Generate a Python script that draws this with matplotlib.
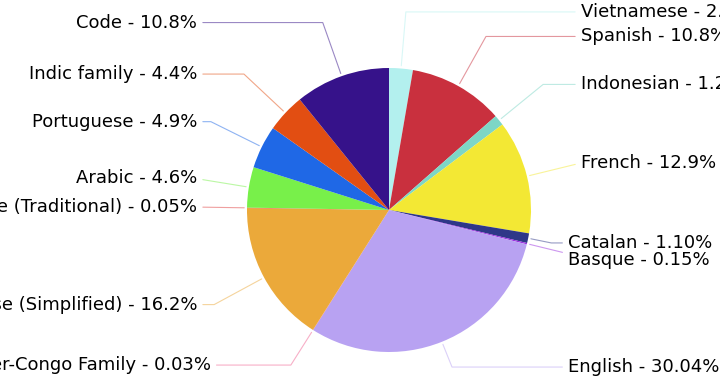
import numpy as np
import matplotlib
matplotlib.use("Agg")
import matplotlib.pyplot as plt

# data (BLOOM training languages)
languages = ["Vietnamese", "Spanish", "Indonesian", "French", "Catalan", "Basque",
             "English", "Niger-Congo Family", "Chinese (Simplified)",
             "Chinese (Traditional)", "Arabic", "Portuguese", "Indic family", "Code"]
share_labels = ["2.7%", "10.8%", "1.2%", "12.9%", "1.10%", "0.15%",
                "30.04%", "0.03%", "16.2%", "0.05%", "4.6%", "4.9%", "4.4%", "10.8%"]
shares = [2.7, 10.8, 1.2, 12.9, 1.10, 0.15, 30.04, 0.03, 16.2, 0.05, 4.6, 4.9, 4.4, 10.8]
colors = ["#b3f0ee", "#c9303e", "#7dd6c6", "#f3e834", "#2e3788", "#9b30e0",
          "#b8a2f2", "#f06090", "#eba93a", "#e04040", "#78f04a", "#1f68e6",
          "#e24e12", "#36128a"]

# hand nudged label spots (where the default ones collide)
nudge = {"Catalan": (1.26, -0.232), "Basque": (1.26, -0.352),
         "English": (1.26, -1.106), "Niger-Congo Family": (-1.254, -1.092)}

fig = plt.figure(figsize=(7.2, 3.8), dpi=100)
ax = fig.add_axes([0, 0, 1, 1])

wedges, _ = ax.pie(shares, colors=colors, startangle=90, counterclock=False,
                   radius=1, center=(0, 0))

for i, w in enumerate(wedges):
    ang = (w.theta2 - w.theta1) / 2. + w.theta1
    y = np.sin(np.deg2rad(ang))
    x = np.cos(np.deg2rad(ang))
    ha = {-1: "right", 1: "left"}[int(np.sign(x))]
    tx, ty = nudge.get(languages[i], (1.35 * np.sign(x), 1.4 * y))
    ax.annotate(languages[i] + " - " + share_labels[i], xy=(x, y), xytext=(tx, ty),
                ha=ha, va="center", fontsize=13, zorder=0,
                arrowprops=dict(arrowstyle="-", color=colors[i], alpha=0.5, lw=0.8,
                                connectionstyle="angle,angleA=0,angleB=%f" % ang))

ax.set_aspect("auto")
ax.set_xlim(-389 / 142, 331 / 142)
ax.set_ylim(-170 / 142, 210 / 142)
ax.axis("off")

fig.savefig("out.png", dpi=100)
